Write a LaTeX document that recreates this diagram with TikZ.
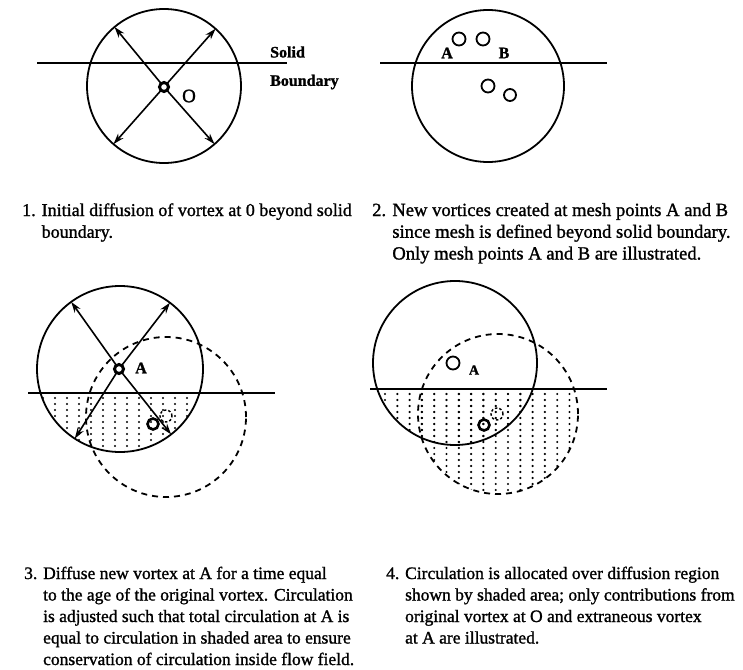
\documentclass[tikz,border=0pt]{standalone}
\usepackage{fontspec}
\setmainfont{Liberation Serif}
\newfontfamily\capfont{Liberation Serif}[FakeBold=1.2]
\usetikzlibrary{arrows.meta,calc}
\begin{document}
\begin{tikzpicture}[x=1pt,y=-1pt,
  bigcirc/.style={circle,draw,line width=1.8pt,inner sep=0pt,outer sep=0pt},
  dashcirc/.style={circle,draw,line width=1.8pt,inner sep=0pt,outer sep=0pt,dash pattern=on 6pt off 5pt},
  wall/.style={line width=2pt},
  vtx/.style={circle,draw,line width=3pt,inner sep=0pt,outer sep=0pt,minimum size=9pt},
  mesh/.style={circle,draw,line width=1.8pt,inner sep=0pt,minimum size=13pt},
  ghost/.style={circle,draw,line width=1.4pt,dash pattern=on 2.5pt off 2pt,inner sep=0pt,minimum size=12pt},
  arr/.style={line width=1.6pt,-{Stealth[length=11pt,width=7pt]}},
  dots/.style={line width=2.4pt,line cap=round,dash pattern=on 0pt off 6pt},
  captxt/.style={anchor=base west,inner sep=0pt},
  lbl/.style={inner sep=0pt,font=\capfont\bfseries\fontsize{16}{18}\selectfont},
  olbl/.style={inner sep=0pt,font=\capfont\fontsize{19}{20}\selectfont},
]
\fill[white] (0,0) rectangle (743,669);
\useasboundingbox (0,0) rectangle (743,669);

% ---------------- Panel 1
\node[bigcirc,minimum size=154pt] (c1) at (164,86) {};
\coordinate (w1a) at (37,63);
\coordinate (w1b) at (287,63);
\draw[wall] (w1a) -- (w1b);
\node[vtx] (o1) at (164,87) {};
\draw[arr] (o1) -- (c1.130);
\draw[arr] (o1) -- (c1.48);
\draw[arr] (o1) -- (c1.229);
\draw[arr] (o1) -- (c1.311);
\node[olbl] (o1l) at (189,96) {O};
\node[lbl,anchor=west] (solid) at (270,52) {Solid};
\node[lbl,anchor=west] (bnd) at (270,82) {Boundary};

% ---------------- Panel 2
\node[bigcirc,minimum size=152pt] (c2) at (488,86) {};
\coordinate (w2a) at (380,63);
\coordinate (w2b) at (607,63);
\draw[wall] (w2a) -- (w2b);
\node[mesh] (m2a) at (459,39) {};
\node[mesh] (m2b) at (483,39) {};
\node[mesh] (m2c) at (488,86) {};
\node[mesh,minimum size=12pt] (m2d) at (510,95) {};
\node[lbl] (la2) at (447,53) {A};
\node[lbl] (lb2) at (504,53) {B};

% ---------------- Panel 3
\begin{scope}
  \clip (120,369) circle (83pt);
  \clip (0,393) rectangle (300,470);
  \foreach \x in {43,55,...,200} \draw[dots] (\x,398) -- (\x,470);
\end{scope}
\node[bigcirc,minimum size=166pt] (c3) at (120,369) {};
\node[dashcirc,minimum size=160pt] (d3) at (166,417) {};
\coordinate (w3a) at (28,393);
\coordinate (w3b) at (275,393);
\draw[wall] (w3a) -- (w3b);
\node[vtx] (a3) at (119,369) {};
\draw[arr] (a3) -- (c3.126);
\draw[arr] (a3) -- (c3.53);
\draw[arr] (a3) -- (c3.237);
\draw[arr] (a3) -- (c3.308);
\node[lbl] (la3) at (141,368) {A};
\node[vtx,line width=2.6pt,minimum size=11pt] (o3) at (153,424) {};
\node[ghost] (g3) at (166,416) {};

% ---------------- Panel 4
\begin{scope}
  \clip (455,363) circle (82pt);
  \clip (360,389) rectangle (620,500);
  \foreach \x in {385,397.3,...,580} \draw[dots] (\x,394) -- (\x,500);
\end{scope}
\begin{scope}
  \clip (498,414) circle (80pt);
  \clip (360,389) rectangle (620,500);
  \foreach \x in {385,397.3,...,580} \draw[dots] (\x,394) -- (\x,500);
\end{scope}
\node[bigcirc,minimum size=164pt] (c4) at (455,363) {};
\node[dashcirc,minimum size=160pt] (d4) at (498,414) {};
\coordinate (w4a) at (370,389);
\coordinate (w4b) at (607,389);
\draw[wall] (w4a) -- (w4b);
\node[mesh] (a4) at (453,363) {};
\node[lbl,font=\capfont\bfseries\fontsize{14}{16}\selectfont] (la4) at (474,370) {A};
\node[vtx,line width=2.6pt,minimum size=11pt] (o4) at (484,425) {};
\node[ghost] (g4) at (497,414) {};

% ---------------- Captions
\node[captxt] (cap1) at (22,216) {\capfont\fontsize{18}{21.75}\selectfont
  \begin{tabular}[t]{@{}l@{}}1. Initial diffusion of vortex at 0 beyond solid\\\phantom{1. }boundary.\end{tabular}};
\node[captxt] (cap2) at (372,216) {\capfont\fontsize{18.6}{21.75}\selectfont
  \begin{tabular}[t]{@{}l@{}}2. New vortices created at mesh points A and B\\\phantom{2. }since mesh is defined beyond solid boundary.\\\phantom{2. }Only mesh points A and B are illustrated.\end{tabular}};
\node[captxt] (cap3) at (24,579) {\capfont\fontsize{17.5}{21.5}\selectfont
  \begin{tabular}[t]{@{}l@{}}3. Diffuse new vortex at A for a time equal\\\phantom{3. }to the age of the original vortex. Circulation\\\phantom{3. }is adjusted such that total circulation at A is\\\phantom{3. }equal to circulation in shaded area to ensure\\\phantom{3. }conservation of circulation inside flow field.\end{tabular}};
\node[captxt] (cap4) at (386,579) {\capfont\fontsize{17.5}{21.5}\selectfont
  \begin{tabular}[t]{@{}l@{}}4. Circulation is allocated over diffusion region\\\phantom{4. }shown by shaded area; only contributions from\\\phantom{4. }original vortex at O and extraneous vortex\\\phantom{4. }at A are illustrated.\end{tabular}};
\end{tikzpicture}
\end{document}
